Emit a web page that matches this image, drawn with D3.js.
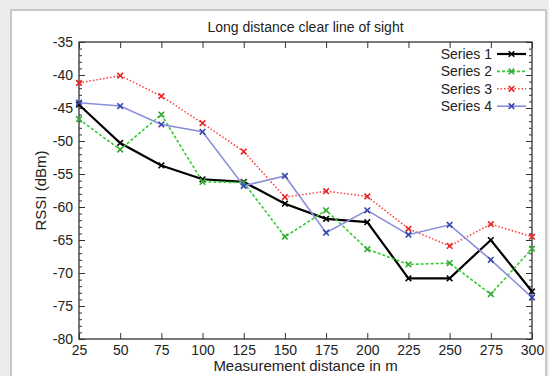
<!DOCTYPE html>
<html>
<head>
<meta charset="utf-8">
<script src="https://cdn.jsdelivr.net/npm/d3@7"></script>
<style>
  body { margin: 0; background: #ececec; }
  text { font-family: "Liberation Sans", Arial, sans-serif; fill: #222; }
</style>
</head>
<body>
<div id="chart"></div>
<script>
// chart data
let distances = [25, 50, 75, 100, 125, 150, 175, 200, 225, 250, 275, 300];
let series1 = [-44.5, -50.3, -53.7, -55.8, -56.2, -59.5, -61.8, -62.3, -70.8, -70.8, -65.0, -72.8];
let series2 = [-46.7, -51.3, -46.0, -56.2, -56.3, -64.5, -60.5, -66.4, -68.7, -68.5, -73.2, -66.3];
let series3 = [-41.2, -40.1, -43.2, -47.3, -51.6, -58.5, -57.6, -58.4, -63.3, -65.9, -62.6, -64.5];
let series4 = [-44.2, -44.7, -47.5, -48.6, -56.8, -55.3, -63.9, -60.5, -64.2, -62.7, -68.0, -73.7];
let seriesNames = ["Series 1", "Series 2", "Series 3", "Series 4"];
let yTicks = [-35, -40, -45, -50, -55, -60, -65, -70, -75, -80];

let svgWidth = 549;
let svgHeight = 376;
let margin = { top: 42, right: 17, bottom: 37, left: 79 };
let width = svgWidth - margin.left - margin.right;
let height = svgHeight - margin.top - margin.bottom;

let svg = d3.select("#chart")
  .append("svg")
  .attr("width", svgWidth)
  .attr("height", svgHeight);

// grey frame like the scanned figure
svg.append("rect")
  .attr("x", 11).attr("y", 10)
  .attr("width", 535).attr("height", 380)
  .attr("fill", "#fff")
  .attr("stroke", "#c8c8c8")
  .attr("stroke-width", 2);

let chartGroup = svg.append("g")
  .attr("transform", `translate(${margin.left}, ${margin.top})`);

let x = d3.scaleLinear().domain([25, 300]).range([0, width]);
let y = d3.scaleLinear().domain([-80, -35]).range([height, 0]);

// minor ticks on y (both sides), inward
let minor = d3.range(-80, -34, 1);
let axisStyle = g => {
  g.select(".domain").remove();
  g.selectAll("line").attr("stroke", "#333").attr("stroke-width", 1);
};
chartGroup.append("g")
  .call(d3.axisLeft(y).tickValues(minor).tickSize(-3).tickFormat(""))
  .call(axisStyle);
chartGroup.append("g")
  .attr("transform", `translate(${width},0)`)
  .call(d3.axisRight(y).tickValues(minor).tickSize(-3).tickFormat(""))
  .call(axisStyle);

// major y ticks with labels (plain hyphen like the original)
let yAxis = chartGroup.append("g")
  .call(d3.axisLeft(y).tickValues(yTicks).tickSize(-6).tickPadding(6).tickFormat(d => String(d)))
  .call(axisStyle);
yAxis.selectAll("text").attr("font-size", "14px").attr("fill", "#222")
  .style("font-family", "Liberation Sans, Arial, sans-serif");
chartGroup.append("g")
  .attr("transform", `translate(${width},0)`)
  .call(d3.axisRight(y).tickValues(yTicks).tickSize(-6).tickFormat(""))
  .call(axisStyle);

// x ticks bottom and top
let xAxis = chartGroup.append("g")
  .attr("transform", `translate(0, ${height})`)
  .call(d3.axisBottom(x).tickValues(distances).tickSize(-6).tickPadding(6))
  .call(axisStyle);
xAxis.selectAll("text").attr("font-size", "14px").attr("fill", "#222")
  .style("font-family", "Liberation Sans, Arial, sans-serif");
chartGroup.append("g")
  .call(d3.axisTop(x).tickValues(distances).tickSize(-6).tickFormat(""))
  .call(axisStyle);

// frame of plot
chartGroup.append("rect")
  .attr("width", width).attr("height", height)
  .attr("fill", "none").attr("stroke", "#333").attr("stroke-width", 1.3);

// series styles
let styles = [
  { data: series1, color: "#000", marker: "#000", width: 2.2, dash: null },
  { data: series2, color: "#33cc33", marker: "#33aa33", width: 1.6, dash: "3,2" },
  { data: series3, color: "#ff3b3b", marker: "#ee2222", width: 1.5, dash: "1.5,2" },
  { data: series4, color: "#8a8fdc", marker: "#3344aa", width: 1.6, dash: null }
];

let line = d3.line()
  .x((d, i) => x(distances[i]))
  .y(d => y(d));

function drawMarker(g, cx, cy, color) {
  let s = 2.8;
  g.append("path")
    .attr("d", `M${cx - s},${cy - s}L${cx + s},${cy + s}M${cx - s},${cy + s}L${cx + s},${cy - s}`)
    .attr("stroke", color).attr("stroke-width", 1.6).attr("fill", "none");
}

styles.forEach(function(st) {
  chartGroup.append("path")
    .datum(st.data)
    .attr("d", line)
    .attr("fill", "none")
    .attr("stroke", st.color)
    .attr("stroke-width", st.width)
    .attr("stroke-dasharray", st.dash);
  st.data.forEach(function(v, i) {
    drawMarker(chartGroup, x(distances[i]), y(v), st.marker);
  });
});

// legend
let legend = chartGroup.append("g")
  .attr("transform", `translate(${width - 40}, 12)`);
styles.forEach(function(st, i) {
  let row = legend.append("g").attr("transform", `translate(0, ${i * 17.4})`);
  row.append("text")
    .attr("x", 0).attr("y", 5)
    .attr("text-anchor", "end")
    .attr("font-size", "14px")
    .text(seriesNames[i]);
  row.append("line")
    .attr("x1", 5).attr("x2", 34).attr("y1", 0).attr("y2", 0)
    .attr("stroke", st.color)
    .attr("stroke-width", st.width)
    .attr("stroke-dasharray", st.dash);
  drawMarker(row, 19.5, 0, st.marker);
});

// title and axis labels
svg.append("text")
  .attr("x", margin.left + width / 2)
  .attr("y", 32)
  .attr("text-anchor", "middle")
  .attr("font-size", "14px")
  .text("Long distance clear line of sight");

svg.append("text")
  .attr("x", margin.left + width / 2)
  .attr("y", 371)
  .attr("text-anchor", "middle")
  .attr("font-size", "15px")
  .text("Measurement distance in m");

svg.append("text")
  .attr("transform", `translate(46, ${margin.top + height / 2}) rotate(-90)`)
  .attr("text-anchor", "middle")
  .attr("font-size", "15px")
  .text("RSSI (dBm)");
</script>
</body>
</html>
